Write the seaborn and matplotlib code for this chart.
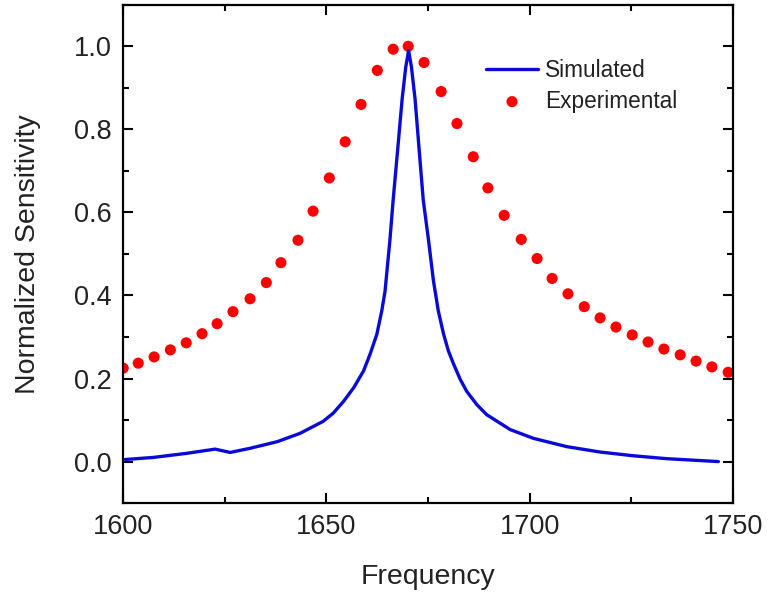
import matplotlib
matplotlib.use("Agg")
import matplotlib.pyplot as plt
import seaborn as sns
import pandas as pd
from matplotlib.ticker import MultipleLocator

# Experimental data (red dots)
exp_freq = [1600.0, 1603.7, 1607.6, 1611.6, 1615.5, 1619.4, 1623.1, 1627.0, 1631.2,
            1635.2, 1638.8, 1643.0, 1646.7, 1650.7, 1654.6, 1658.5, 1662.5, 1666.4,
            1670.1, 1674.0, 1678.2, 1682.1, 1686.1, 1689.7, 1693.7, 1697.9, 1701.8,
            1705.5, 1709.4, 1713.4, 1717.3, 1721.2, 1725.2, 1729.1, 1733.0, 1737.0,
            1740.9, 1744.8, 1748.8]
exp_sens = [0.225, 0.237, 0.252, 0.269, 0.286, 0.308, 0.332, 0.361, 0.392,
            0.431, 0.479, 0.533, 0.603, 0.683, 0.770, 0.860, 0.942, 0.993,
            1.000, 0.961, 0.891, 0.814, 0.734, 0.659, 0.593, 0.535, 0.489,
            0.441, 0.404, 0.373, 0.346, 0.324, 0.305, 0.288, 0.271, 0.257,
            0.242, 0.228, 0.215]

# Simulated data (blue line)
sim_freq = [1600.5, 1607.4, 1615.7, 1622.6, 1624.0, 1626.3, 1631.2, 1637.9, 1643.5,
            1649.2, 1651.7, 1654.2, 1656.7, 1659.1, 1660.7, 1662.4, 1663.6, 1664.4,
            1665.6, 1666.4, 1667.5, 1668.6, 1669.5, 1670.2, 1670.9, 1671.8, 1672.8,
            1673.8, 1675.1, 1676.3, 1677.5, 1678.8, 1680.0, 1681.3, 1682.9, 1684.5,
            1687.0, 1689.4, 1695.2, 1700.9, 1709.1, 1717.3, 1725.5, 1733.7, 1746.4]
sim_sens = [0.005, 0.010, 0.020, 0.030, 0.027, 0.022, 0.032, 0.048, 0.068,
            0.097, 0.117, 0.145, 0.178, 0.218, 0.258, 0.307, 0.363, 0.410,
            0.533, 0.630, 0.750, 0.872, 0.950, 0.990, 0.950, 0.872, 0.750,
            0.630, 0.533, 0.436, 0.363, 0.307, 0.266, 0.234, 0.198, 0.169,
            0.137, 0.113, 0.077, 0.056, 0.036, 0.023, 0.014, 0.007, 0.000]

x_ticks = [1600, 1650, 1700, 1750]
y_ticks = [0.0, 0.2, 0.4, 0.6, 0.8, 1.0]

sns.set_theme(style="ticks")
plt.rcParams['font.family'] = ['Liberation Sans', 'DejaVu Sans']

fig = plt.figure(figsize=(7.7, 5.94), dpi=100)
ax = fig.add_axes([0.160, 0.153, 0.792, 0.839])

sim_df = pd.DataFrame({"Frequency": sim_freq, "Sensitivity": sim_sens})
exp_df = pd.DataFrame({"Frequency": exp_freq, "Sensitivity": exp_sens})

sns.lineplot(data=sim_df, x="Frequency", y="Sensitivity", ax=ax, color="#0a0ad8",
             linewidth=2.4, label="Simulated", sort=False)
sns.scatterplot(data=exp_df, x="Frequency", y="Sensitivity", ax=ax, color="#ff0000",
                s=64, edgecolor="none", label="Experimental")

ax.set_xlim(1600, 1750)
ax.set_ylim(-0.1, 1.1)
ax.set_xticks(x_ticks)
ax.set_yticks(y_ticks)
ax.set_xticklabels([str(v) for v in x_ticks])
ax.set_yticklabels([f"{v:.1f}" for v in y_ticks])
ax.xaxis.set_minor_locator(MultipleLocator(25))
ax.yaxis.set_minor_locator(MultipleLocator(0.1))
ax.tick_params(which="both", direction="in", top=True, right=True, width=1.5,
               labelsize=19.5, color="black", labelcolor="#222222")
ax.tick_params(which="major", length=7, pad=8)
ax.tick_params(which="minor", length=4)
for s in ax.spines.values():
    s.set_linewidth(1.6)
    s.set_color("black")

ax.set_xlabel("Frequency", fontsize=20.5, color="#222222", labelpad=17)
ax.set_ylabel("Normalized Sensitivity", fontsize=20.5, color="#222222", labelpad=24)

leg = ax.legend(loc="upper left", bbox_to_anchor=(0.58, 0.91), frameon=False,
                fontsize=16.3, handlelength=2.3, handletextpad=0.3, labelspacing=0.35,
                borderaxespad=0)
for t in leg.get_texts():
    t.set_color("#222222")

fig.savefig("out.png", dpi=100)
